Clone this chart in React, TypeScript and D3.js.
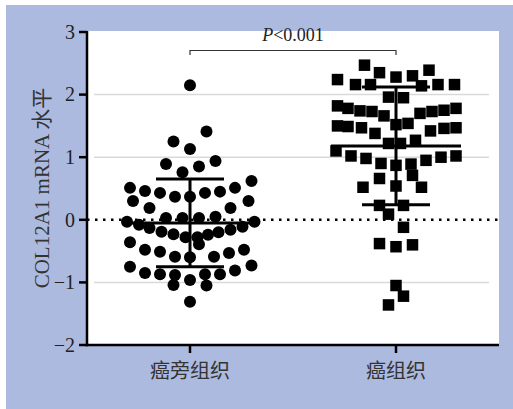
import React from "react";
import * as d3 from "d3";

const categories = ["癌旁组织", "癌组织"];
const yTicks = [-2, -1, 0, 1, 2, 3];
const pLabel = "P<0.001";
const yTitle = "COL12A1 mRNA 水平";

const adjacentValues = [2.15, 1.41, 1.25, 1.13, 0.94, 0.89, 0.85, 0.76, 0.62, 0.51, 0.51, 0.46, 0.43, 0.37, 0.37, 0.43, 0.45, 0.3, 0.3, 0.19, 0.19, -0.03, -0.08, 0.03, 0.03, 0.03, 0.05, -0.03, -0.11, -0.13, -0.19, -0.23, -0.28, -0.28, -0.24, -0.2, -0.16, -0.39, -0.36, -0.48, -0.51, -0.53, -0.48, -0.59, -0.6, -0.59, -0.75, -0.73, -0.85, -0.87, -0.88, -0.87, -0.87, -0.81, -0.96, -1.04, -1.05, -1.31];
const adjacentSlots = [0, 1.1, -1.1, 0, 1.7, -1.6, 0.6, -0.5, 4.1, -4, 3, -3, -2, -1, 0, 1, 2, -3.8, 3.9, -2.7, 2.7, -4.2, -3.4, -1.6, -0.5, 0.6, 1.7, 4.3, 3.5, -2.7, -1.9, -1.1, -0.3, 0.5, 1.2, 1.9, 2.7, 0.6, -4, -3, -2, 2.6, 3.6, -1, 0, 1.6, -4, 4.1, -3, -2, -1, 1, 2, 3, 0, -1.1, 1.1, 0];

const tumorValues = [2.47, 2.39, 2.35, 2.28, 2.3, 2.24, 2.16, 2.16, 2.14, 2.16, 2.16, 1.96, 1.95, 1.82, 1.78, 1.74, 1.73, 1.66, 1.7, 1.73, 1.75, 1.78, 1.52, 1.54, 1.5, 1.49, 1.47, 1.38, 1.42, 1.46, 1.47, 1.22, 1.22, 1.27, 1.1, 1.02, 0.98, 0.9, 0.87, 0.89, 0.95, 1.0, 1.02, 0.71, 0.66, 0.52, 0.54, 0.52, 0.23, 0.23, 0.09, -0.12, -0.38, -0.43, -0.4, -1.05, -1.22, -1.36];
const tumorSlots = [-2.1, 2.2, -1.1, 0, 1.1, -3.9, -2.7, -1.7, 1.7, 2.8, 3.9, -0.5, 0.5, -3.9, -3.2, -2.4, -1.6, -0.8, 1.6, 2.4, 3.2, 4, 0, 0.8, -3.9, -3.2, -2.3, -1.4, 2.3, 3.2, 4, -0.5, 0.3, 1.3, -4, -3, -2, -1, 0, 1, 2, 3, 4, 1.1, -1.1, -2.2, 0, 1.7, -1.1, 0.5, -0.5, 0.5, -1.1, 0, 1.1, 0, 0.5, -0.5];

const means = [-0.05, 1.18];
const sds = [0.7, 0.94];

export default function App() {
  const W = 513, H = 409;
  const left = 87, right = 499, top = 31, bottom = 345;
  const y = d3.scaleLinear().domain([-2, 3]).range([345, 32]);
  const x = d3.scalePoint<string>().domain(categories).range([left, right]).padding(0.5);
  const slot = 15;
  const r = 6;
  const sq = 11.5;
  const serif = "'Liberation Serif', 'Times New Roman', serif";
  const cjk = "'Noto Sans CJK SC', sans-serif";

  const x0 = x(categories[0])!;
  const x1 = x(categories[1])!;

  return (
    <svg width={W} height={H} style={{ position: "absolute", left: 0, top: 0 }}>
      <rect x={0} y={0} width={W} height={H} fill="#ffffff" />
      <rect x={6} y={5} width={W - 6} height={H - 5} fill="#adbadf" />
      <rect x={left} y={top} width={right - left} height={bottom - top} fill="#ffffff" />
      {yTicks.filter((t) => t !== 0 && t !== 3 && t !== -2).map((t) => (
        <line key={"g" + t} x1={94} x2={489} y1={y(t)} y2={y(t)} stroke="#d9d9d9" strokeWidth={1.5} />
      ))}
      <line x1={left} x2={right} y1={y(0)} y2={y(0)} stroke="#000" strokeWidth={2.5} strokeDasharray="2.5 5.5" />
      {adjacentValues.map((v, i) => (
        <circle key={"a" + i} cx={x0 + adjacentSlots[i] * slot} cy={y(v)} r={r} fill="#000" />
      ))}
      {tumorValues.map((v, i) => (
        <rect key={"t" + i} x={x1 + tumorSlots[i] * slot - sq / 2} y={y(v) - sq / 2} width={sq} height={sq} fill="#000" />
      ))}
      {categories.map((c, i) => {
        const cx = x(c)!;
        const m = means[i], s = sds[i];
        return (
          <g key={"e" + i} stroke="#000" strokeWidth={3}>
            <line x1={cx - 65} x2={cx + 65} y1={y(m)} y2={y(m)} />
            <line x1={cx} x2={cx} y1={y(m + s)} y2={y(m - s)} />
            <line x1={cx - 34} x2={cx + 34} y1={y(m + s)} y2={y(m + s)} />
            <line x1={cx - 34} x2={cx + 34} y1={y(m - s)} y2={y(m - s)} />
          </g>
        );
      })}
      <line x1={left} x2={left} y1={top} y2={bottom + 1.2} stroke="#000" strokeWidth={2.5} />
      <line x1={left - 1.2} x2={right} y1={bottom} y2={bottom} stroke="#000" strokeWidth={2.5} />
      {yTicks.map((t) => (
        <g key={"yt" + t}>
          <line x1={left - 8} x2={left} y1={y(t)} y2={y(t)} stroke="#000" strokeWidth={2.5} />
          <text x={left - 12} y={y(t)} dy="0.34em" textAnchor="end" fontFamily={serif} fontSize={20} fill="#222">
            {t < 0 ? "\u2212" + Math.abs(t) : String(t)}
          </text>
        </g>
      ))}
      {categories.map((c) => (
        <g key={"xt" + c}>
          <line x1={x(c)!} x2={x(c)!} y1={bottom} y2={bottom + 8} stroke="#000" strokeWidth={2.5} />
          <text x={x(c)!} y={378} textAnchor="middle" fontFamily={cjk} fontSize={20} fill="#333">
            {c}
          </text>
        </g>
      ))}
      <text
        transform={`translate(49, 188) rotate(-90)`}
        textAnchor="middle"
        fontFamily={`'Liberation Serif', 'Noto Sans CJK SC', serif`}
        fontSize={21}
        fill="#333"
      >
        {yTitle}
      </text>
      <path d={`M${x0},55 V50.5 H${x1} V55`} fill="none" stroke="#333" strokeWidth={1.2} />
      <text x={(x0 + x1) / 2} y={41} textAnchor="middle" fontFamily={serif} fontSize={18} fill="#222">
        <tspan fontStyle="italic">P</tspan>
        {pLabel.slice(1)}
      </text>
    </svg>
  );
}
